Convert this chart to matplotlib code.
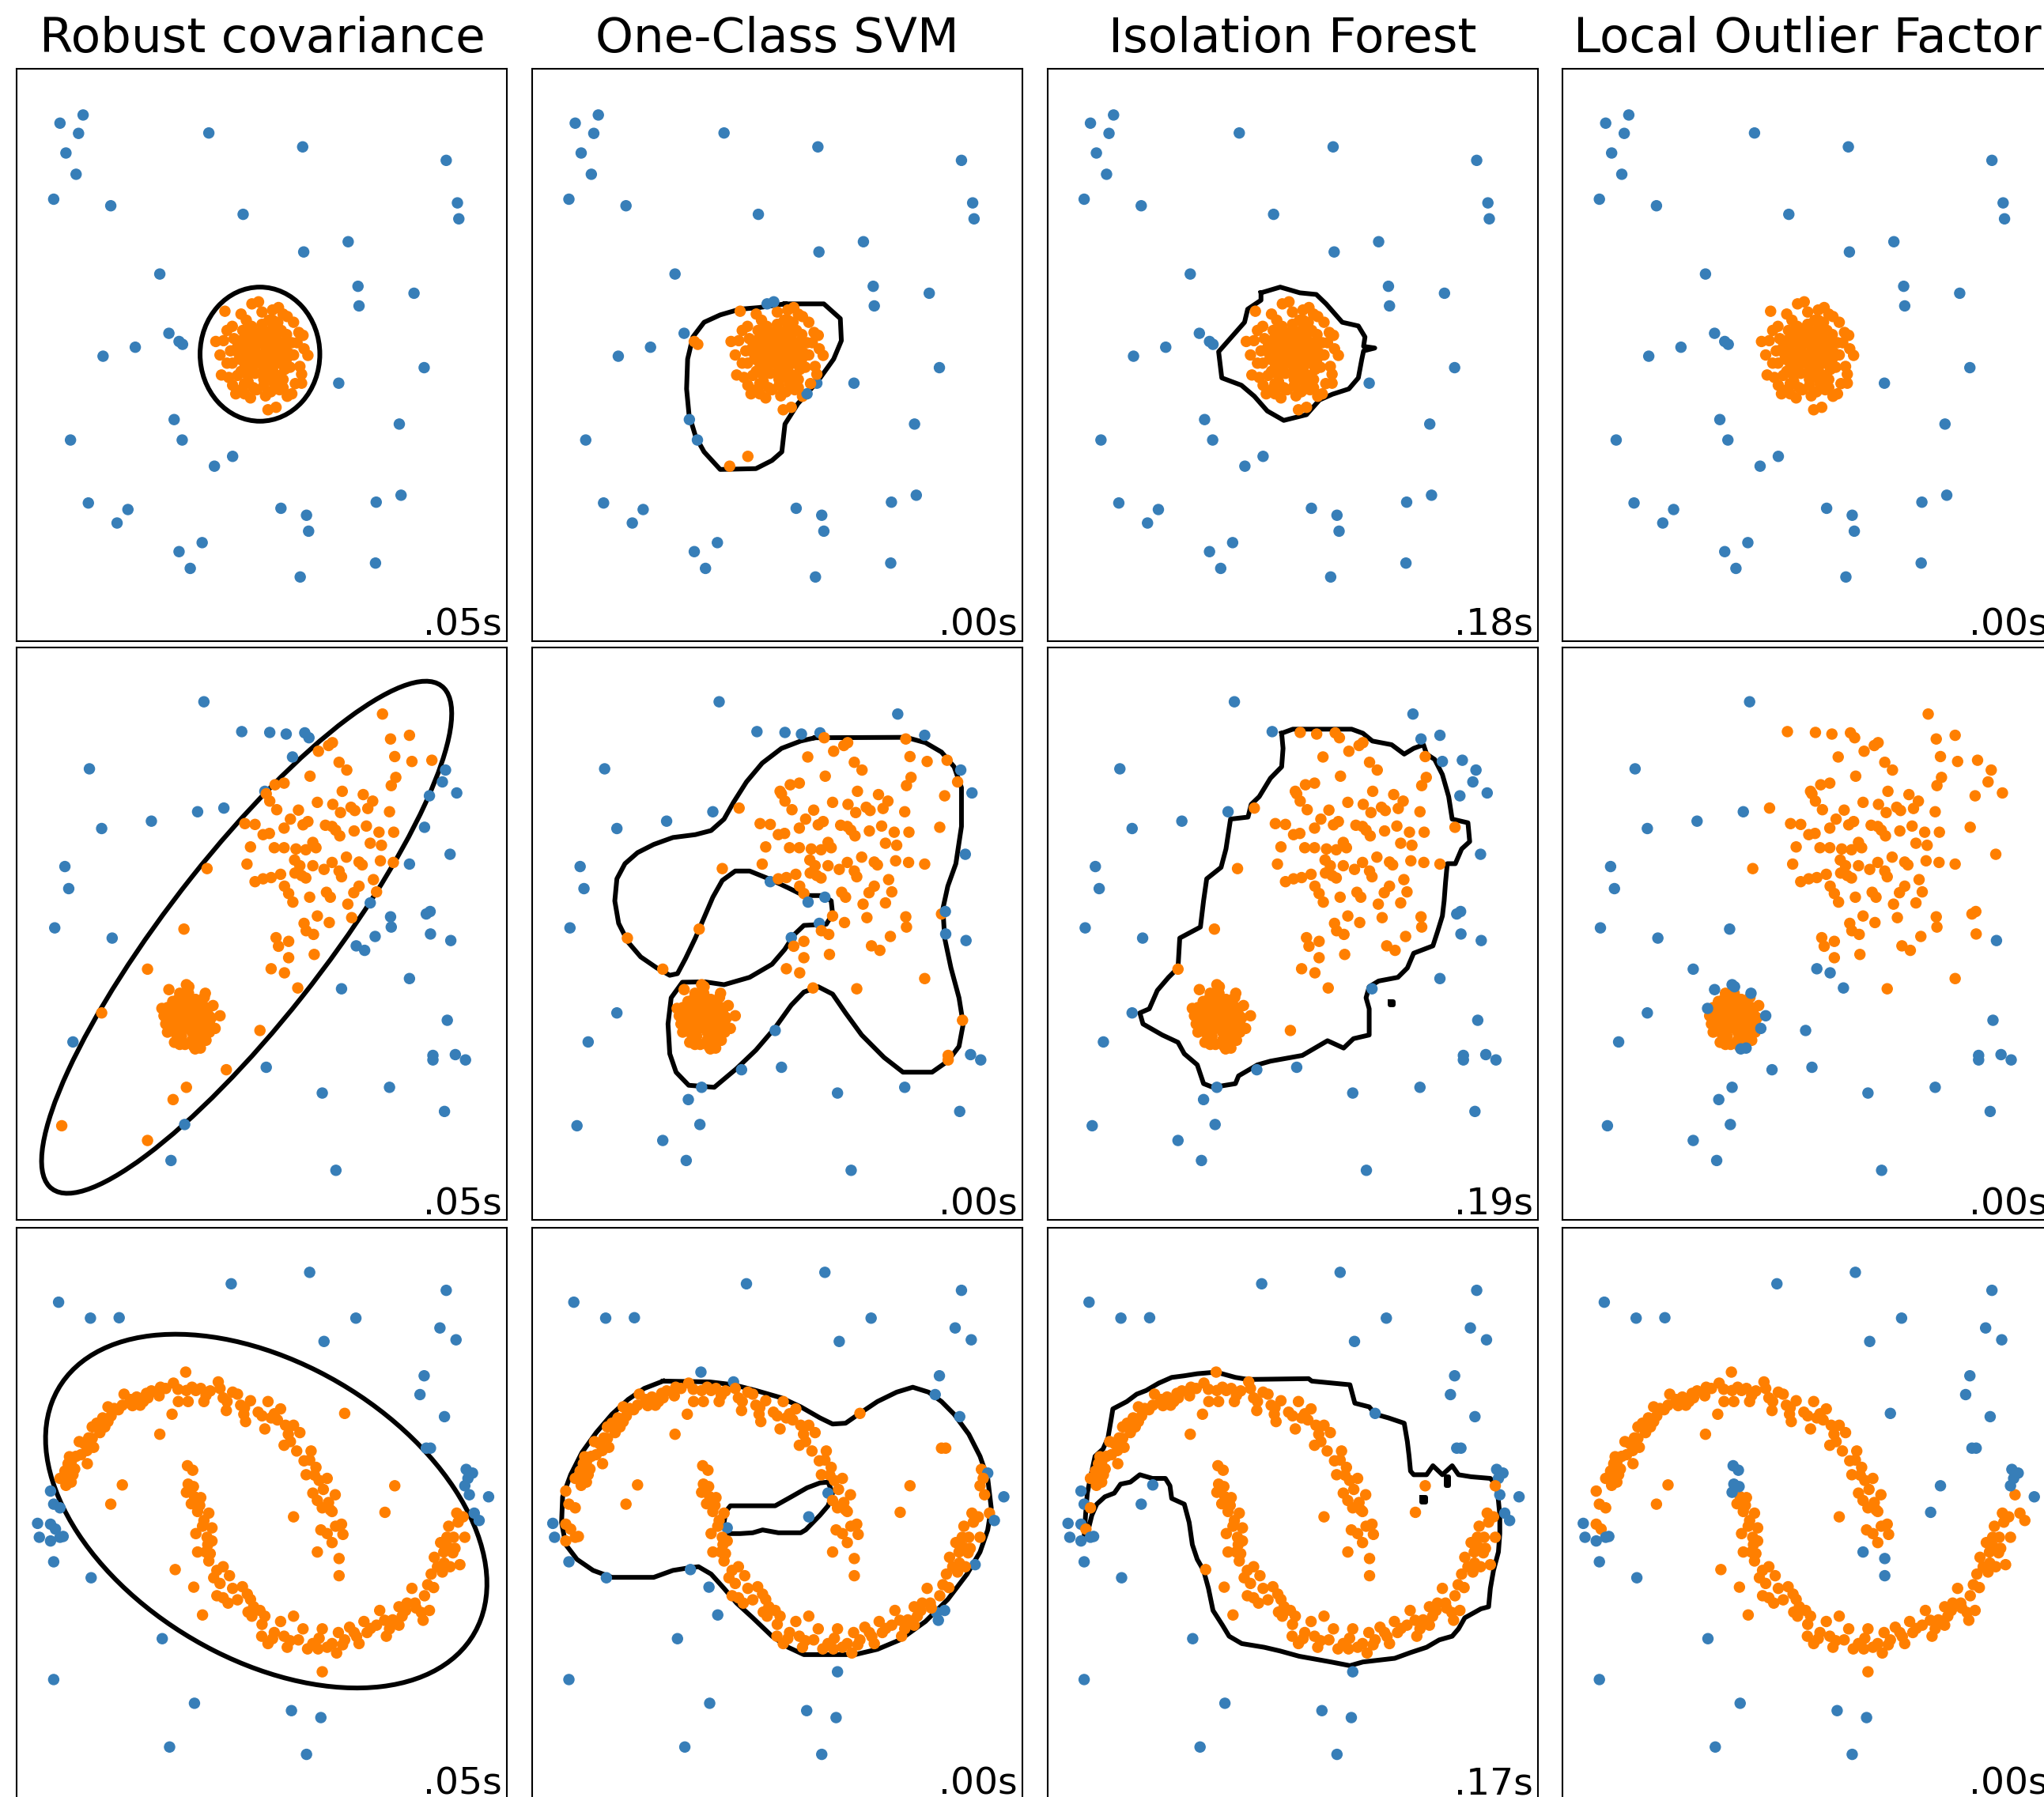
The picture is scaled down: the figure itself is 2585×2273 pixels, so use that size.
import numpy as np
import matplotlib
matplotlib.use("Agg")
import matplotlib.pyplot as plt
from matplotlib.path import Path
from matplotlib.patches import Ellipse

# algorithm names (column titles) and the timing labels per row
names = ["Robust covariance", "One-Class SVM", "Isolation Forest", "Local Outlier Factor"]
times_r1 = [".05s", ".00s", ".18s", ".00s"]
times_r2 = [".05s", ".00s", ".19s", ".00s"]
times_r3 = [".05s", ".00s", ".17s", ".00s"]

colors = ["#377eb8", "#ff7f00"]  # outlier, inlier

# ---------------- row 1: single blob ----------------
# points LOF calls outliers
r1_out = [(-5.77, 5.67), (-5.11, 5.87), (-5.24, 5.42), (-5.60, 4.94), (-5.31, 4.42), (-5.95, 3.81),
          (-4.32, 3.65), (-1.52, 5.43), (1.16, 5.09), (-0.54, 3.44), (5.26, 4.76), (5.58, 3.72),
          (5.62, 3.33), (2.46, 2.77), (1.19, 2.52), (-2.92, 1.98), (2.74, 1.68), (2.77, 1.20),
          (4.34, 1.51), (-2.66, 0.53), (-2.37, 0.33), (-2.27, 0.26), (-3.62, 0.19), (-4.54, -0.03),
          (4.63, -0.31), (2.19, -0.69), (-2.51, -1.58), (3.92, -1.69), (-5.47, -2.08), (-2.28, -2.08),
          (-0.84, -2.48), (-1.36, -2.72), (-4.96, -3.62), (-3.83, -3.78), (-4.14, -4.11), (0.54, -3.75),
          (1.27, -3.92), (1.33, -4.31), (3.26, -3.60), (3.97, -3.43), (-1.71, -4.59), (-2.37, -4.81),
          (-2.05, -5.22), (1.09, -5.43), (3.24, -5.09)]
# points LOF calls inliers
r1_in = [(0.0, 0.0), (0.2, 0.1), (-0.2, 0.15), (0.1, -0.25), (-0.15, -0.2), (0.35, 0.3), (-0.35, 0.3),
         (0.3, -0.35), (-0.3, -0.35), (0.45, 0.0), (-0.45, 0.05), (0.05, 0.45), (0.0, -0.45), (0.25, 0.45),
         (-0.25, 0.45), (0.5, -0.2), (-0.5, -0.2), (0.15, 0.3), (-0.1, 0.35), (0.4, 0.15), (-0.4, -0.1),
         (0.2, -0.1), (-0.05, -0.1), (0.1, 0.2), (-0.2, -0.45), (0.3, -0.05), (-0.3, 0.05), (0.05, -0.35),
         (0.6, 0.3), (-0.6, 0.35), (0.65, -0.35), (-0.6, -0.4), (0.3, 0.65), (-0.3, 0.7), (0.35, -0.7),
         (-0.4, -0.65), (0.75, 0.05), (-0.75, 0.1), (0.0, 0.75), (0.05, -0.75), (0.55, 0.6), (-0.55, 0.6),
         (0.6, -0.6), (-0.5, -0.7), (0.85, 0.3), (-0.85, -0.2), (0.2, 0.85), (-0.15, -0.85), (0.8, -0.3),
         (-0.8, 0.4), (0.7, 0.5), (-0.7, -0.5), (0.45, 0.8), (-0.45, 0.85), (0.5, -0.85), (-0.25, -0.8),
         (0.9, 0.0), (-0.9, 0.1), (-1.32, 0.33), (-1.16, -0.49), (-0.84, -0.74), (-0.33, -1.05),
         (0.17, -1.34), (0.40, -1.28), (0.72, -1.01), (1.13, -0.69), (1.31, -0.01), (1.17, 0.48),
         (0.72, 0.94), (0.47, 1.16), (-0.29, 1.25), (-1.06, 1.07), (1.13, -0.47), (0.90, 0.80),
         (-0.56, -0.83), (1.08, -0.28), (1.0, 0.3), (-1.0, 0.6), (-1.0, -0.2), (0.6, 1.0), (-0.6, 1.0),
         (0.0, 1.05), (0.95, -0.7), (-0.75, -0.95), (0.1, -1.0), (1.2, 0.15), (-1.2, 0.0), (0.3, 1.1),
         (-0.1, 1.3), (0.85, -0.95), (0.1, 0.05), (-0.1, -0.05), (0.25, 0.2), (-0.25, -0.1),
         (0.15, -0.15), (-0.15, 0.25), (0.35, -0.15), (-0.35, -0.25), (0.05, 0.6), (0.05, -0.6),
         (0.55, 0.1), (-0.55, 0.15), (0.4, 0.45), (-0.4, 0.5), (0.45, -0.5), (-0.45, -0.45), (0.65, 0.2),
         (-0.65, -0.1), (0.2, -0.55), (-0.1, 0.55), (0.7, -0.1), (-0.7, 0.2), (0.3, 0.85), (0.6, -0.8),
         (-0.85, 0.7), (-1.1, 0.35), (1.05, 0.55), (-0.95, -0.55), (0.25, -0.9), (-0.5, -0.95)]
r1_robust = (-0.06, 0.02, 3.42, 3.28, 0.0)  # centre x, centre y, width, height, angle
r1_svm = [(0.22, 1.25), (1.33, 1.25), (1.80, 0.89), (1.83, 0.35), (1.61, -0.10), (1.15, -0.65),
          (0.59, -1.19), (0.22, -1.69), (0.13, -2.37), (-0.15, -2.58), (-0.61, -2.78), (-1.63, -2.80),
          (-2.09, -2.37), (-2.33, -2.00), (-2.52, -1.46), (-2.59, -0.83), (-2.56, -0.10), (-2.41, 0.44),
          (-2.09, 0.80), (-1.63, 0.98), (-1.07, 1.12), (-0.52, 1.16)]
r1_iforest = [(-0.90, 1.52), (-0.35, 1.66), (0.21, 1.52), (0.68, 1.48), (0.96, 1.25), (1.42, 0.80),
              (1.88, 0.71), (2.07, 0.44), (2.03, 0.21), (2.35, 0.17), (2.03, 0.10), (1.98, -0.10),
              (1.88, -0.56), (1.61, -0.83), (1.14, -0.96), (0.77, -1.10), (0.40, -1.46), (-0.25, -1.60),
              (-0.72, -1.37), (-1.09, -1.01), (-1.46, -0.74), (-2.02, -0.56), (-2.11, 0.08), (-1.74, 0.44),
              (-1.37, 0.80), (-1.28, 1.12), (-0.90, 1.34)]

# ---------------- row 2: wide blob + tight blob ----------------
r2_out = [(-1.66, 5.68), (-4.93, 4.04), (-4.58, 2.58), (-3.16, 2.76), (-1.84, 2.99), (-5.63, 1.65),
          (-5.52, 1.11), (-5.92, 0.15), (-4.28, -0.10), (5.39, -0.16), (5.29, -2.11), (4.88, -2.97),
          (4.88, -3.08), (5.52, -2.95), (5.81, -3.08), (3.64, -3.75), (5.21, -4.34), (1.72, -3.89),
          (2.11, -5.78), (-2.60, -5.54), (0.12, -3.26), (-5.40, -2.64), (-2.23, 0.12), (-3.27, -0.86),
          (-4.58, -1.93), (-0.06, -2.36), (-1.02, -3.32), (-2.16, -3.75), (-2.54, -4.05), (-2.21, -4.66),
          (-5.72, -4.69), (-3.27, -5.05), (0.26, -0.85), (0.64, -0.95), (1.02, -1.32), (-2.66, -1.36),
          (-2.16, -1.24), (-2.09, -1.29), (-1.62, -1.45), (-2.86, -1.82), (-1.20, -2.00), (-1.34, -2.31),
          (-1.91, -2.81), (-1.76, -2.79)]
r2_in = [(-0.58, 4.95), (0.22, 4.93), (0.69, 4.89), (1.22, 4.92), (1.34, 4.80), (0.87, 4.33),
         (-1.09, 3.08), (0.08, 3.49), (5.56, 3.45), (4.64, 2.61), (5.37, 1.95), (4.21, 1.71),
         (3.67, 0.42), (3.69, 0.17), (4.69, 0.49), (4.80, 0.55), (4.81, 0.00), (3.23, -0.06),
         (2.69, -0.29), (2.93, -0.40), (4.21, -1.09), (2.27, -1.34),
         (3.44, 5.38), (3.67, 4.77), (4.21, 4.86), (1.90, 4.61), (2.01, 4.68), (1.61, 4.47), (3.79, 4.34),
         (4.28, 4.22), (4.85, 4.25), (2.20, 4.20), (2.42, 4.01), (5.24, 4.01), (5.15, 3.72), (1.37, 3.86),
         (3.82, 3.83), (3.69, 3.63), (4.78, 3.38), (2.29, 3.49), (2.89, 3.41), (3.16, 3.25), (3.02, 3.07),
         (3.64, 2.99), (1.58, 3.22), (2.02, 3.17), (2.24, 2.97), (2.54, 3.10), (2.65, 3.02), (1.04, 3.03),
         (0.81, 2.81), (0.42, 3.04), (0.22, 3.25), (0.12, 3.43), (0.37, 3.65), (0.63, 3.69), (-0.20, 2.68),
         (-0.49, 2.70), (0.03, 2.43), (0.21, 2.46), (0.63, 2.59), (1.17, 2.67), (1.31, 2.75), (1.81, 2.66),
         (2.00, 2.63), (2.10, 2.54), (2.22, 2.40), (2.63, 2.52), (2.98, 2.64), (3.34, 2.49), (3.76, 2.49),
         (3.09, 2.22), (3.41, 2.17), (-0.33, 2.13), (0.35, 2.11), (0.63, 2.11), (0.97, 2.08), (1.25, 2.06),
         (1.45, 2.24), (1.54, 2.11), (-0.43, 1.71), (0.93, 1.81), (1.08, 1.67), (0.94, 1.49), (1.13, 1.43),
         (1.25, 1.37), (1.45, 1.67), (1.77, 1.58), (2.00, 1.75), (2.20, 1.54), (2.27, 1.40), (2.41, 1.88),
         (2.77, 1.76), (2.86, 1.69), (3.38, 1.79), (3.75, 1.75), (-0.20, 1.28), (0.03, 1.35), (0.26, 1.38),
         (0.53, 1.46), (0.64, 1.17), (0.76, 0.99), (0.88, 0.78), (1.36, 0.90), (1.84, 1.02), (1.95, 0.90),
         (2.45, 0.73), (2.62, 1.01), (2.77, 1.17), (3.18, 1.33), (3.27, 1.03), (3.09, 0.76), (1.58, 0.44),
         (1.92, 0.28), (2.56, 0.40), (1.20, 0.26), (1.26, 0.08), (1.47, -0.01), (0.40, -0.09), (0.47, -0.30),
         (0.76, -0.18), (0.76, -0.58), (1.49, -0.50), (-1.57, 1.60),
         (-2.1, -2.0), (-2.3, -1.8), (-1.9, -2.2), (-2.0, -1.7), (-2.4, -2.1), (-1.8, -1.9), (-2.2, -2.3),
         (-2.5, -1.9), (-1.7, -2.1), (-2.0, -2.4), (-2.3, -2.5), (-1.6, -1.8), (-2.6, -2.2), (-1.9, -1.6),
         (-2.2, -1.6), (-2.4, -1.6), (-1.5, -2.2), (-2.7, -1.8), (-2.0, -2.6), (-1.8, -2.5), (-2.5, -2.4),
         (-1.65, -2.4), (-2.15, -1.85), (-1.95, -1.95), (-2.35, -2.0), (-2.05, -2.2), (-1.85, -2.05),
         (-2.25, -2.15), (-2.45, -1.75), (-1.75, -1.7), (-2.6, -2.0), (-1.55, -1.95), (-2.1, -1.45),
         (-2.35, -1.45), (-1.95, -2.75), (-2.2, -2.7), (-2.8, -2.0), (-1.45, -2.05), (-2.7, -2.4),
         (-1.4, -1.75), (-2.5, -2.65), (-1.6, -2.6), (-2.05, -1.9), (-2.2, -2.05), (-1.9, -1.8),
         (-2.3, -2.3), (-1.75, -2.25), (-2.0, -2.1), (-2.15, -1.7), (-2.45, -2.25), (-1.85, -2.35),
         (-2.55, -1.65), (-1.65, -1.55), (-2.35, -2.7), (-1.85, -2.65), (-2.75, -2.2), (-1.5, -2.4)]
r2_robust = (-0.44, -0.08, 16.6, 4.3, 47.2)
r2_svm = [(1.08, 4.80), (3.68, 4.81), (4.23, 4.68), (4.69, 4.45), (5.05, 4.09), (5.26, 3.58), (5.26, 2.63),
          (5.10, 1.72), (4.87, 1.17), (4.73, 0.62), (4.78, -0.10), (4.96, -0.83), (5.19, -1.56),
          (5.31, -2.20), (5.19, -2.75), (4.87, -3.11), (4.42, -3.38), (3.59, -3.38), (3.05, -3.02),
          (2.41, -2.47), (1.95, -1.93), (1.58, -1.47), (1.17, -1.29), (0.76, -1.42), (0.40, -1.74),
          (-0.06, -2.29), (-0.61, -2.84), (-1.16, -3.29), (-1.80, -3.75), (-2.53, -3.70), (-2.89, -3.38),
          (-3.07, -2.93), (-3.12, -2.20), (-3.03, -1.56), (-2.71, -1.18), (-2.07, -1.17), (-1.52, -1.24),
          (-0.79, -1.06), (-0.15, -0.74), (0.21, -0.38), (0.49, -0.01), (0.76, 0.21), (1.40, 0.24),
          (1.58, 0.49), (1.54, 0.81), (1.31, 0.94), (0.76, 0.94), (0.31, 1.13), (-0.24, 1.35), (-0.79, 1.54),
          (-1.20, 1.54), (-1.57, 1.31), (-1.84, 0.90), (-2.07, 0.44), (-2.34, -0.10), (-2.62, -0.60),
          (-2.85, -0.97), (-3.07, -1.01), (-3.44, -0.83), (-3.90, -0.56), (-4.26, -0.20), (-4.53, 0.26),
          (-4.64, 0.81), (-4.58, 1.35), (-4.35, 1.72), (-3.99, 1.99), (-3.53, 2.19), (-2.98, 2.36),
          (-2.34, 2.43), (-1.89, 2.53), (-1.52, 2.81), (-1.25, 3.22), (-0.88, 3.72), (-0.43, 4.18),
          (0.12, 4.54), (0.67, 4.72)]
r2_iforest = [(-0.31, 4.91), (0.01, 5.01), (1.69, 5.01), (2.01, 4.91), (2.28, 4.72), (2.83, 4.63), (3.19, 4.40),
              (3.46, 4.54), (3.74, 4.63), (3.83, 4.40), (4.06, 4.27), (4.28, 3.90), (4.37, 3.63), (4.46, 3.36),
              (4.56, 2.81), (5.01, 2.72), (5.06, 2.26), (4.83, 2.08), (4.65, 1.72), (4.42, 1.72), (4.37, 1.26),
              (4.33, 0.81), (4.28, 0.44), (4.15, 0.08), (4.01, -0.29), (3.46, -0.47), (3.28, -0.83),
              (3.01, -1.06), (2.46, -1.15), (2.19, -1.29), (2.10, -1.56), (2.19, -1.83), (2.19, -2.47),
              (1.74, -2.56), (1.46, -2.79), (1.00, -2.61), (0.28, -2.97), (-0.63, -3.11), (-1.00, -3.20),
              (-1.54, -3.47), (-1.63, -3.66), (-2.27, -3.75), (-2.54, -3.66), (-2.72, -3.20), (-3.09, -2.93),
              (-3.27, -2.65), (-3.72, -2.47), (-4.27, -2.20), (-4.36, -1.93), (-4.09, -1.83), (-3.86, -1.38),
              (-3.54, -1.06), (-3.27, -0.83), (-3.22, -0.10), (-2.63, 0.17), (-2.54, 0.81), (-2.45, 1.35),
              (-2.04, 1.63), (-1.90, 2.08), (-1.77, 2.81), (-1.27, 2.86), (-1.18, 3.17), (-0.95, 3.36),
              (-0.63, 3.81), (-0.31, 4.09), (-0.27, 4.54)]
r2_iforest_island = [(2.78, -1.66), (2.88, -1.66), (2.88, -1.74), (2.78, -1.74)]

# ---------------- row 3: two moons ----------------
r3_out = [(-5.81, 5.18), (-4.90, 4.79), (-4.08, 4.80), (-0.88, 5.63), (1.36, 5.91), (2.68, 4.79),
          (1.77, 4.22), (5.26, 5.47), (5.08, 4.55), (5.54, 4.26), (4.63, 3.38), (4.51, 2.92), (5.21, 2.38),
          (4.69, 1.61), (4.81, 1.61), (5.83, 1.09), (6.01, 1.00), (5.88, 0.87), (5.79, 0.69), (6.47, 0.42),
          (-6.41, -0.23), (-6.36, -0.57), (-6.04, -0.66), (-5.77, -0.57), (-5.68, -0.55), (-5.95, -1.17),
          (-4.88, -1.56), (-2.85, -3.05), (-5.95, -4.05), (-1.93, -4.63), (0.84, -4.81), (1.68, -4.98),
          (-2.64, -5.70), (1.27, -5.88), (2.36, 2.46), (3.79, 0.69), (3.51, 0.04), (1.58, -0.93),
          (2.20, -1.09), (2.20, -1.51), (-2.13, 1.18), (-1.98, 1.07), (-2.11, 0.73), (-2.16, 0.53),
          (-1.96, 0.67)]
r3_in = [(-6.04, 0.56), (-5.95, 0.24), (-5.77, 0.15), (-6.04, -0.25), (-5.90, -0.37), (5.92, 0.47),
         (6.06, 0.02), (6.20, -0.16), (-2.92, 1.95), (-3.99, 0.71), (-4.32, 0.24), (-2.48, -1.36),
         (-1.95, -1.79), (-1.70, -2.47), (0.90, -0.07), (-2.18, 3.47), (1.72, -3.86),
         # upper moon
         (-5.77, 0.87), (-5.63, 1.05), (-5.54, 1.23), (-5.45, 1.27), (-5.31, 1.41), (-5.17, 1.45),
         (-4.99, 1.23), (-5.40, 0.96), (-5.45, 0.78), (-5.58, 0.96), (-5.22, 1.77), (-5.08, 1.72),
         (-4.95, 1.86), (-4.81, 1.63), (-4.85, 2.13), (-4.72, 2.22), (-4.63, 1.99), (-4.49, 2.13),
         (-4.40, 2.26), (-4.31, 2.40), (-4.40, 2.62), (-4.22, 2.58), (-3.99, 2.66), (-3.94, 2.93),
         (-3.76, 2.80), (-3.58, 2.86), (-3.48, 2.66), (-3.39, 2.75), (-3.26, 2.84), (-3.16, 3.01),
         (-2.94, 2.89), (-2.75, 3.07), (-2.53, 3.20), (-2.57, 2.44), (-2.39, 2.75), (-2.16, 3.02),
         (-2.11, 2.75), (-1.89, 3.02), (-1.75, 3.07), (-1.66, 2.75), (-1.48, 3.01), (-1.25, 3.23),
         (-1.20, 3.07), (-1.11, 2.84), (-1.02, 2.53), (-0.84, 2.98), (-0.70, 2.93), (-0.61, 2.66),
         (-0.52, 2.44), (-0.47, 2.26), (-0.33, 2.77), (-0.11, 2.49), (0.08, 2.08), (0.17, 2.75),
         (0.26, 2.35), (0.44, 2.30), (0.53, 2.57), (0.67, 2.17), (0.63, 1.68), (0.81, 1.77), (0.90, 2.17),
         (0.99, 1.54), (1.08, 1.99), (1.40, 1.54), (1.36, 1.32), (1.26, 0.96), (1.54, 1.14), (1.63, 0.82),
         (1.45, 0.51), (1.86, 0.87), (2.09, 0.47), (1.58, 0.33), (1.72, 0.15), (2.00, 0.06), (1.90, 0.28),
         (1.68, -0.39), (1.86, -0.48), (2.00, -0.70), (2.27, -0.25), (2.31, -0.50),
         (-5.35, 1.10), (-5.00, 1.55), (-4.85, 1.85), (-4.55, 2.35), (-4.10, 2.55), (-3.70, 2.65),
         (-3.30, 2.95), (-2.90, 3.10), (-2.40, 3.05), (-2.00, 3.10), (-1.60, 2.90), (-1.00, 2.75),
         (-0.50, 2.60), (0.00, 2.40), (0.35, 2.45), (0.75, 1.95), (1.20, 1.30), (1.50, 0.95),
         (1.75, 0.60), (1.95, 0.10), (2.10, -0.30), (-5.60, 0.70), (-5.50, 1.40),
         # lower moon
         (-1.93, 0.42), (-1.75, 0.40), (-2.02, 0.25), (-1.78, 0.21), (-1.84, 0.06), (-1.52, 0.02),
         (-1.66, -0.16), (-1.43, -0.34), (-1.89, -0.48), (-1.57, -0.57), (-1.43, -0.66), (-1.84, -0.93),
         (-1.61, -0.93), (-1.48, -0.97), (-1.52, -1.15), (-1.29, -1.38), (-1.11, -1.29), (-1.38, -1.56),
         (-0.93, -1.51), (-0.84, -1.82), (-1.29, -2.00), (-1.11, -2.05), (-0.97, -2.18), (-0.56, -1.78),
         (-0.42, -1.96), (-0.33, -2.09), (-0.24, -2.27), (-0.29, -2.50), (-0.06, -2.36), (0.08, -2.50),
         (-0.01, -2.99), (0.17, -3.17), (0.35, -2.90), (0.53, -2.63), (0.63, -2.99), (0.72, -3.26),
         (0.90, -2.50), (1.04, -3.08), (1.17, -2.81), (1.45, -3.17), (1.63, -3.04), (1.72, -2.81),
         (1.86, -3.26), (2.00, -3.17), (2.13, -3.40), (2.18, -2.90), (2.36, -3.08), (2.50, -2.77),
         (2.63, -2.90), (2.77, -3.17), (2.91, -2.63), (3.00, -2.90), (3.27, -2.72), (3.36, -2.36),
         (3.55, -2.99), (3.73, -2.59), (3.91, -2.72), (3.91, -2.27), (4.10, -2.36), (4.28, -1.82),
         (4.37, -2.18), (4.55, -2.41), (4.64, -2.00), (4.73, -1.73), (4.78, -2.36), (4.83, -1.47),
         (5.01, -1.29), (4.92, -1.06), (5.19, -0.93), (5.10, -0.70), (5.28, -0.57), (5.51, -0.84),
         (5.65, -1.24), (5.33, -0.30), (5.56, 0.02), (5.74, -0.07), (5.37, -1.29), (5.15, -1.42),
         (5.47, -0.57), (5.79, -0.57), (4.14, -2.18), (3.64, -2.81),
         (-1.70, -0.30), (-1.55, -0.75), (-1.20, -1.70), (-0.70, -2.10), (-0.40, -2.40), (0.00, -2.70),
         (0.30, -3.05), (0.80, -3.10), (1.30, -3.30), (1.60, -3.30), (2.30, -3.20), (2.70, -3.00),
         (3.10, -2.80), (3.50, -2.60), (4.00, -2.50), (4.40, -2.30), (4.60, -2.60), (4.90, -1.80),
         (5.20, -1.20), (5.45, -0.95), (5.60, -0.20), (5.30, -0.80)]
r3_robust = (0.12, 0.07, 13.35, 7.45, -23.4)
r3_svm = [(-3.26, 3.25), (-1.93, 3.23), (-1.25, 3.16), (-0.61, 3.02), (0.12, 2.84), (0.67, 2.62), (1.22, 2.35),
          (1.58, 2.20), (1.95, 2.22), (2.32, 2.44), (2.86, 2.75), (3.41, 2.98), (3.87, 3.10), (4.32, 2.98),
          (4.69, 2.75), (5.05, 2.44), (5.47, 1.95), (5.79, 1.41), (6.01, 0.87), (6.11, 0.15), (6.01, -0.39),
          (5.79, -0.93), (5.42, -1.47), (4.87, -2.09), (4.23, -2.63), (3.50, -3.08), (2.86, -3.31),
          (2.22, -3.44), (0.76, -3.44), (0.31, -3.26), (-0.15, -2.99), (-0.70, -2.54), (-1.16, -2.18),
          (-1.52, -1.82), (-1.89, -1.47), (-2.25, -1.29), (-2.62, -1.33), (-2.98, -1.38), (-3.53, -1.55),
          (-4.72, -1.55), (-5.26, -1.38), (-5.72, -1.11), (-6.04, -0.75), (-6.16, -0.21), (-6.13, 0.42),
          (-5.90, 0.96), (-5.58, 1.50), (-5.17, 1.99), (-4.72, 2.44), (-4.26, 2.80), (-3.80, 3.07)]
r3_svm_hole = [(-1.47, 0.06), (-1.34, 0.20), (-0.79, 0.20), (-0.06, 0.20), (0.40, 0.42), (0.85, 0.64),
               (1.22, 0.76), (1.45, 0.78), (1.58, 0.51), (1.45, 0.20), (1.22, -0.03), (0.81, -0.39),
               (0.67, -0.46), (0.03, -0.46), (-0.42, -0.39), (-0.70, -0.46), (-1.06, -0.48), (-1.43, -0.48),
               (-1.52, -0.21)]
r3_iforest = [(-5.95, -0.57), (-5.91, -0.03), (-5.86, 0.51), (-5.73, 1.05), (-5.64, 1.41), (-5.41, 1.59),
              (-5.27, 1.86), (-5.18, 2.31), (-5.13, 2.57), (-4.73, 2.75), (-4.45, 2.93), (-4.18, 3.02),
              (-3.82, 3.20), (-3.45, 3.34), (-3.09, 3.38), (-2.72, 3.43), (-2.18, 3.47), (-1.63, 3.34),
              (-1.27, 3.29), (0.46, 3.31), (0.55, 3.25), (1.64, 3.16), (1.78, 2.71), (2.19, 2.62),
              (2.37, 2.44), (2.74, 2.35), (3.19, 2.22), (3.28, 1.77), (3.33, 1.41), (3.37, 1.05), (3.46, 0.96),
              (3.83, 0.96), (4.01, 1.18), (4.28, 0.96), (4.56, 1.18), (4.74, 0.96), (5.10, 0.91), (5.65, 0.87),
              (5.83, 0.69), (5.88, 0.33), (5.92, -0.03), (5.92, -0.48), (5.88, -0.93), (5.74, -1.38),
              (5.65, -1.82), (5.60, -2.27), (5.38, -2.32), (4.92, -2.54), (4.74, -2.81), (4.56, -2.99),
              (4.19, -3.08), (3.83, -3.26), (3.37, -3.39), (2.92, -3.53), (2.01, -3.62), (1.64, -3.71),
              (1.10, -3.62), (0.19, -3.48), (-0.36, -3.35), (-0.81, -3.26), (-1.45, -3.17), (-1.81, -2.99),
              (-2.00, -2.72), (-2.27, -2.36), (-2.40, -1.82), (-2.54, -1.38), (-2.72, -1.11), (-2.86, -0.75),
              (-2.95, -0.21), (-3.09, 0.24), (-3.45, 0.38), (-3.50, 0.69), (-3.63, 0.87), (-4.00, 0.87),
              (-4.36, 0.96), (-4.63, 0.78), (-4.91, 0.73), (-5.09, 0.51), (-5.36, 0.42), (-5.59, 0.24),
              (-5.73, -0.03), (-5.86, -0.48)]
r3_iforest_islands = [[(3.68, 0.40), (3.80, 0.40), (3.80, 0.29), (3.68, 0.29)],
                      [(4.40, 0.90), (4.46, 0.90), (4.46, 0.70), (4.40, 0.70)]]


def in_ellipse(p, ell):
    cx, cy, w, h, ang = ell
    t = np.deg2rad(ang)
    dx, dy = p[:, 0] - cx, p[:, 1] - cy
    u = dx * np.cos(t) + dy * np.sin(t)
    v = -dx * np.sin(t) + dy * np.cos(t)
    return (u / (w / 2)) ** 2 + (v / (h / 2)) ** 2 <= 1


def in_poly(p, outer, holes=()):
    m = Path(outer).contains_points(p)
    for hole in holes:
        m &= ~Path(hole).contains_points(p)
    return m


LW = 4.3


def draw_loop(ax, verts):
    v = np.array(verts + verts[:1])
    ax.plot(v[:, 0], v[:, 1], color="black", lw=LW, zorder=2, solid_joinstyle="round")


rows = [
    (r1_in, r1_out, r1_robust, (r1_svm, []), (r1_iforest, []), times_r1),
    (r2_in, r2_out, r2_robust, (r2_svm, []), (r2_iforest, [r2_iforest_island]), times_r2),
    (r3_in, r3_out, r3_robust, (r3_svm, [r3_svm_hole]), (r3_iforest, r3_iforest_islands), times_r3),
]

W, H = 2585, 2273
fig = plt.figure(figsize=(W / 100, H / 100), dpi=100)

col_left = [21.4, 673.0, 1324.6, 1976.2]
row_top = [87.0, 819.4, 1553.0]
ax_w, ax_h = 620.0, 724.0

for r, (pin, pout, robust, svm, iforest, times) in enumerate(rows):
    X = np.array(pin + pout)
    lof = np.r_[np.ones(len(pin), int), np.zeros(len(pout), int)]
    preds = [
        in_ellipse(X, robust).astype(int),
        in_poly(X, svm[0], svm[1]).astype(int),
        in_poly(X, iforest[0]).astype(int),
        lof,
    ]
    for c in range(4):
        ax = fig.add_axes([col_left[c] / W, 1 - (row_top[r] + ax_h) / H, ax_w / W, ax_h / H])
        if c == 0:
            ax.add_patch(Ellipse(robust[:2], robust[2], robust[3], angle=robust[4],
                                 fill=False, ec="black", lw=LW, zorder=2))
        elif c == 1:
            draw_loop(ax, svm[0])
            for hole in svm[1]:
                draw_loop(ax, hole)
        elif c == 2:
            draw_loop(ax, iforest[0])
            for isl in iforest[1]:
                draw_loop(ax, isl)
        ax.scatter(X[:, 0], X[:, 1], s=88, c=np.array(colors)[preds[c]],
                   linewidths=1.0, edgecolors="face", zorder=3)
        ax.set_xlim(-7, 7)
        ax.set_ylim(-7, 7)
        ax.set_xticks([])
        ax.set_yticks([])
        for sp in ax.spines.values():
            sp.set_linewidth(1.5)
        if r == 0:
            ax.set_title(names[c], fontsize=44, pad=15)
        ax.text(0.99, 0.01, times[c], transform=ax.transAxes, fontsize=34, ha="right")

fig.savefig("out.png", dpi=100)
